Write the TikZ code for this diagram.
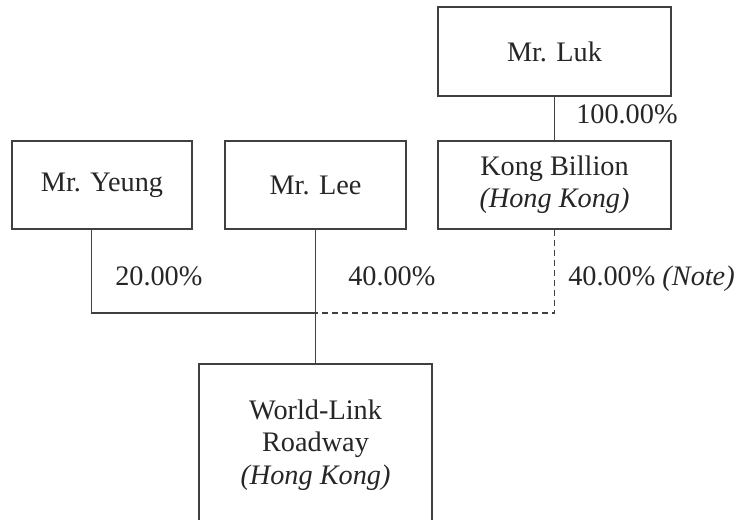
\documentclass[tikz,border=0pt]{standalone}
\usepackage{fontspec}
\setmainfont{Liberation Serif}
\definecolor{linec}{HTML}{404040}
\definecolor{textc}{HTML}{262626}
\begin{document}
\begin{tikzpicture}[x=0.75pt,y=-0.75pt,
  every node/.style={text=textc,font=\fontsize{21.2}{24.2}\selectfont},
  entity/.style={draw=linec,line width=0.8pt,rectangle,inner sep=0pt,align=center},
  conn/.style={draw=linec,line width=0.8pt},
  pct/.style={anchor=base west,inner sep=0pt}]
\useasboundingbox (0,0) rectangle (736,520);
\clip (0,0) rectangle (736,520);
\node[entity,minimum width=174.75pt,minimum height=66.75pt] (luk) at (554.5,51.5) {Mr. Luk};
\node[entity,minimum width=174.75pt,minimum height=66pt] (kb) at (554.5,185) {Kong Billion\\\textit{(Hong Kong)}};
\node[entity,minimum width=135pt,minimum height=66pt] (yeung) at (102,185) {Mr. Yeung};
\node[entity,minimum width=135.75pt,minimum height=66pt] (lee) at (315.5,185) {Mr. Lee};
\node[entity,minimum width=174.75pt,minimum height=121.5pt] (wl) at (315.5,445) {World-Link\\Roadway\\\textit{(Hong Kong)}};
\coordinate (j) at (315.5,313);
\draw[conn] (luk.south) -- (kb.north);
\draw[conn] ([xshift=60pt]yeung.south west) |- (j);
\draw[conn] (lee.south) -- (wl.north);
\draw[conn,dash pattern=on 4.5pt off 3pt] (kb.south) |- (j);
\node[pct] (p100) at (576,124) {100.00\%};
\node[pct] (p20) at (115,286) {20.00\%};
\node[pct] (p40a) at (348,286) {40.00\%};
\node[pct] (p40b) at (568,286) {40.00\% \textit{(Note)}};
\end{tikzpicture}
\end{document}
